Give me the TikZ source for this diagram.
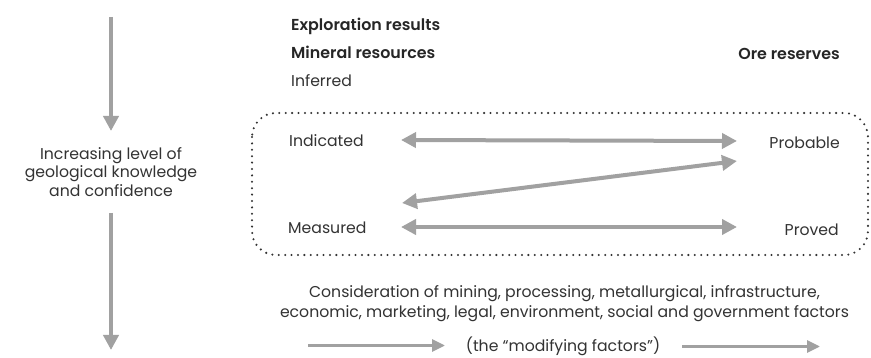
\documentclass[tikz,border=0pt]{standalone}
\usepackage{fontspec}
\setmainfont{Poppins}[BoldFont={Poppins SemiBold}]
\usetikzlibrary{arrows.meta}
\newlength\probelen
\begin{document}
% font sizes chosen so that the longest lines get their set widths
\settowidth\probelen{\fontsize{10}{12}\selectfont economic, marketing, legal, environment, social and government factors}%
\pgfmathsetmacro\regsize{5690/\probelen}%
\settowidth\probelen{\fontsize{10}{12}\selectfont\bfseries Exploration results}%
\pgfmathsetmacro\boldsize{1490/\probelen}%
\begin{tikzpicture}[x=1pt,y=-1pt,
  txt/.style={inner sep=0pt, text=black!80, font=\fontsize{\regsize}{18.5}\selectfont},
  bold/.style={inner sep=0pt, text=black!85, font=\fontsize{\boldsize}{16}\selectfont\bfseries},
  tip/.style={Triangle[length=15pt,width=15pt]},
  garrow/.style={draw=black!37, line width=4pt, -{Triangle[length=15pt,width=15pt]}},
  gdouble/.style={draw=black!37, line width=4pt, {Triangle[length=15pt,width=15pt]}-{Triangle[length=15pt,width=15pt]}},
  dotbox/.style={draw=black!80, line width=2.3pt, line cap=round, dash pattern=on 0pt off 6.4pt, rounded corners=24pt}]
\useasboundingbox (0,0) rectangle (871,358);
\fill[white] (0,0) rectangle (871,358);

% left column: direction of increasing confidence
\node[txt, align=center] (conf) at (111,172) {Increasing level of\\geological knowledge\\and confidence};
\coordinate (vtop) at (111,17);
\coordinate (vmid) at (111,131);
\coordinate (vlow) at (111,213);
\coordinate (vend) at (111,350);
\draw[garrow] (vtop) -- (vmid);
\draw[garrow] (vlow) -- (vend);

% headings
\node[bold, anchor=base west] (expl) at (291,30.5) {Exploration results};
\node[bold, anchor=base west] (minres) at (291,58.5) {Mineral resources};
\node[bold, anchor=base east] (orer) at (840,59.5) {Ore reserves};
\node[txt, anchor=base west] (inf) at (291,86.5) {Inferred};

% dotted grouping box
\draw[dotbox] (252,113) rectangle (868,255);

% categories
\node[txt, anchor=base west] (ind) at (289,147) {Indicated};
\node[txt, anchor=base east] (prob) at (840,148.5) {Probable};
\node[txt, anchor=base west] (meas) at (288,233.5) {Measured};
\node[txt, anchor=base east] (prov) at (839,235.5) {Proved};

\coordinate (a1l) at (401,140);
\coordinate (a1r) at (737,141);
\coordinate (a2r) at (737,161);
\coordinate (a2l) at (402,203);
\coordinate (a3l) at (401,227);
\coordinate (a3r) at (737,227);
\draw[gdouble] (a1l) -- (a1r);
\draw[gdouble] (a2r) -- (a2l);
\draw[gdouble] (a3l) -- (a3r);

% modifying factors
\node[txt, align=center, font=\fontsize{\regsize}{20}\selectfont] (cons) at (564.5,304) {Consideration of mining, processing, metallurgical, infrastructure,\\economic, marketing, legal, environment, social and government factors};
\node[txt, anchor=base] (modf) at (563,351.5) {(the \textquotedblleft modifying factors\textquotedblright)};
\coordinate (m1a) at (308,345.5);
\coordinate (m1b) at (445,345.5);
\coordinate (m2a) at (682,346.5);
\coordinate (m2b) at (820,346.5);
\draw[garrow, line width=3pt, -{Triangle[length=13pt,width=12pt]}] (m1a) -- (m1b);
\draw[garrow, line width=3pt, -{Triangle[length=13pt,width=12pt]}] (m2a) -- (m2b);
\end{tikzpicture}
\end{document}
